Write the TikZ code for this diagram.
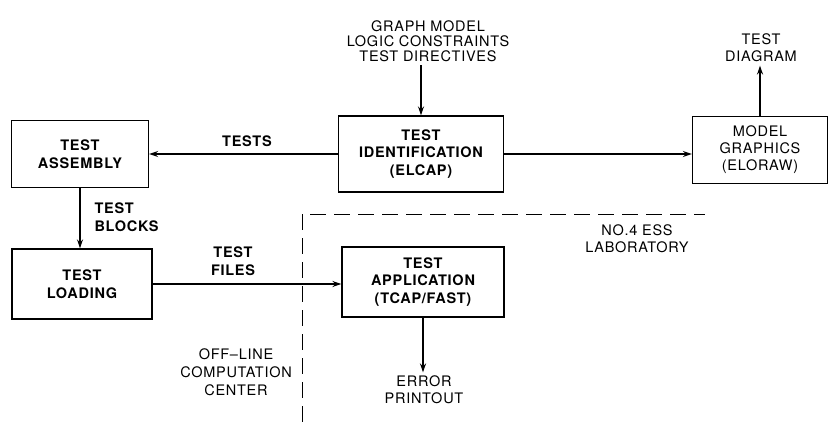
\documentclass[tikz,border=0pt]{standalone}
\usepackage{fontspec}
\setmainfont{TeX Gyre Heros}[LetterSpace=5]
\usetikzlibrary{arrows.meta}

\begin{document}
\begin{tikzpicture}[x=1pt, y=-1pt,
  every node/.style={align=center, font=\fontsize{14.5}{17}\selectfont},
  box/.style={draw, line width=1.2pt, inner sep=2pt},
  heavy/.style={font=\bfseries\fontsize{14.5}{17.5}\selectfont},
  flow/.style={-{Stealth[length=9pt,width=6pt]}, line width=1.9pt}]
\useasboundingbox (0,0) rectangle (831,422);

% boxes
\node[box, heavy, minimum width=137pt, minimum height=67pt] (asm) at (80,154) {TEST\\ASSEMBLY};
\node[box, heavy, minimum width=165pt, minimum height=76pt] (ti) at (421,154) {TEST\\IDENTIFICATION\\(ELCAP)};
\node[box, minimum width=135pt, minimum height=67pt] (mg) at (760,150) {MODEL\\GRAPHICS\\(ELORAW)};
\node[box, heavy, minimum width=140pt, minimum height=70pt] (tl) at (82,284) {TEST\\LOADING};
\node[box, heavy, minimum width=162pt, minimum height=70pt] (tap) at (423,282) {TEST\\APPLICATION\\(TCAP/FAST)};

% labels
\node[font=\fontsize{14.5}{15}\selectfont] (gm) at (428,41) {GRAPH MODEL\\LOGIC CONSTRAINTS\\TEST DIRECTIVES};
\node (diag) at (761,48) {TEST\\DIAGRAM};
\node[heavy] (tests) at (247,141) {TESTS};
\node[heavy, anchor=west, align=left] (blocks) at (91,217) {TEST\\BLOCKS};
\node[heavy] (files) at (233,261) {TEST\\FILES};
\node[font=\fontsize{14.5}{18}\selectfont] (offline) at (236,372) {OFF--LINE\\COMPUTATION\\CENTER};
\node (ess) at (637,239) {NO.4 ESS\\LABORATORY};
\node (err) at (424,390) {ERROR\\PRINTOUT};

% arrows
\draw[flow] (ti |- gm.south) -- (ti.north);
\draw[flow] (ti.west) -- (ti.west -| asm.east);
\draw[flow] (ti.east) -- (ti.east -| mg.west);
\draw[flow] (mg.north) -- (mg |- diag.south);
\draw[flow] (asm.south) -- (asm.south |- tl.north);
\draw[flow] (tl.east) -- (tl.east -| tap.west);
\draw[flow] (tap.south) -- (tap |- err.north);

% boundary
\draw[line width=0.9pt, dash pattern=on 16pt off 8pt] (302,422) -- (302,214) -- (705,214);
\end{tikzpicture}
\end{document}
